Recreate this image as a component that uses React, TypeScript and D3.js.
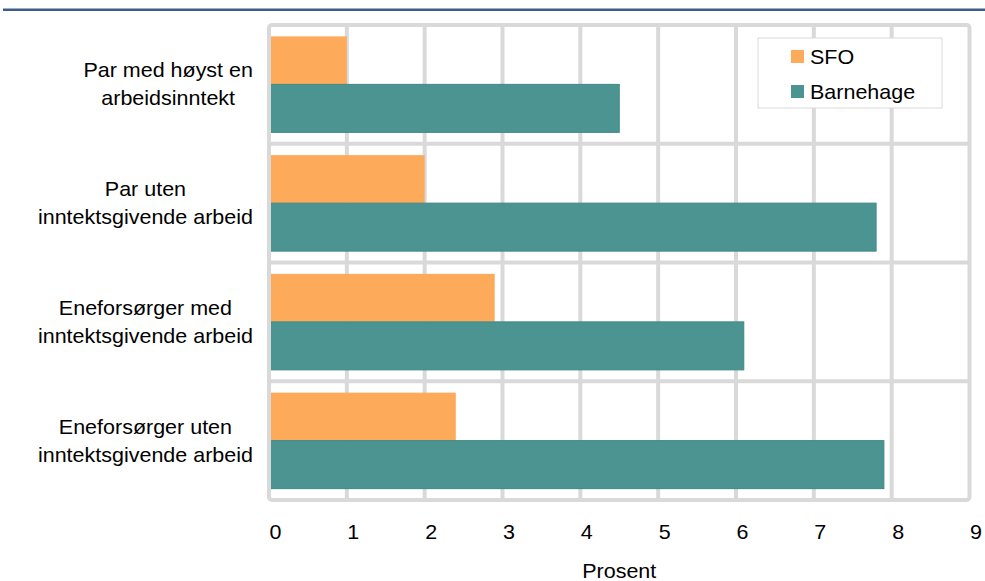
import React from "react";
import * as d3 from "d3";

const categories: string[][] = [
  ["Par med høyst en", "arbeidsinntekt"],
  ["Par uten", "inntektsgivende arbeid"],
  ["Eneforsørger med", "inntektsgivende arbeid"],
  ["Eneforsørger uten", "inntektsgivende arbeid"],
];
const seriesNames = ["SFO", "Barnehage"];
const sfoValues = [1.0, 2.0, 2.9, 2.4];
const barnehageValues = [4.5, 7.8, 6.1, 7.9];
const ticks = [0, 1, 2, 3, 4, 5, 6, 7, 8, 9];
const axisTitle = "Prosent";

const colors: Record<string, string> = { SFO: "#fdab5a", Barnehage: "#4c9491" };
const FONT = "'Liberation Sans', Arial, sans-serif";
const SX = 1.075;

function measure(text: string, size: number): number {
  if (typeof document === "undefined") return text.length * size * 0.5;
  const c = document.createElement("canvas");
  const ctx = c.getContext("2d")!;
  ctx.font = `${size}px 'Liberation Sans', Arial, sans-serif`;
  return ctx.measureText(text).width * SX;
}

function T(props: { x: number; y: number; anchor?: "start" | "middle" | "end"; size: number; children: React.ReactNode }) {
  return (
    <g transform={`translate(${props.x},${props.y}) scale(${SX},1)`}>
      <text x={0} y={0} textAnchor={props.anchor || "start"} fontSize={props.size} fill="#000">
        {props.children}
      </text>
    </g>
  );
}

export default function App() {
  const W = 985, H = 581;
  const left = 269, right = 969.5, top = 25, bottom = 500;
  const x = d3.scaleLinear().domain([0, 9]).range([left, right]);
  const keys = categories.map((c) => c.join(" "));
  const y = d3.scaleBand<string>().domain(keys).range([top, bottom]).padding(0);
  const sub = d3.scaleBand<string>().domain(seriesNames).range([0, y.step()]).paddingInner(0).paddingOuter(0.237);
  const data = [sfoValues, barnehageValues];
  const grid = "#d9d9d9";
  const fs = 20;

  return (
    <svg width={W} height={H} style={{ position: "absolute", left: 0, top: 0, background: "#fff" }} fontFamily={FONT}>
      <line x1={3} x2={985} y1={9.8} y2={9.8} stroke="#3f5b8c" strokeWidth={2.5} />
      {ticks.slice(1, -1).map((t) => (
        <line key={"v" + t} x1={x(t)} x2={x(t)} y1={top} y2={bottom} stroke={grid} strokeWidth={4} />
      ))}
      {keys.slice(1).map((k) => (
        <line key={"h" + k} x1={left} x2={right} y1={y(k)!} y2={y(k)!} stroke={grid} strokeWidth={4} />
      ))}
      {seriesNames.map((s, si) =>
        keys.map((k, ci) => (
          <rect
            key={s + k}
            x={x(0)}
            y={y(k)! + sub(s)!}
            width={x(data[si][ci]) - x(0)}
            height={sub.bandwidth()}
            fill={colors[s]}
            stroke={s === "Barnehage" ? "#3f8884" : "none"}
            strokeWidth={s === "Barnehage" ? 1 : 0}
          />
        ))
      )}
      <rect x={left} y={top} width={right - left} height={bottom - top} rx={3} fill="none" stroke={grid} strokeWidth={4} />
      {categories.map((lines, ci) => {
        const k = keys[ci];
        const cy = y(k)! + y.bandwidth() / 2;
        const maxW = Math.max(...lines.map((l) => measure(l, fs)));
        const cx = 253 - maxW / 2;
        const lh = 28;
        return lines.map((l, li) => (
          <T key={k + li} x={cx} y={cy + (li - (lines.length - 1) / 2) * lh + 7} anchor="middle" size={fs}>
            {l}
          </T>
        ));
      })}
      {ticks.map((t) => (
        <T key={"t" + t} x={x(t) + 6.5} y={539} anchor="middle" size={fs}>
          {t}
        </T>
      ))}
      <T x={(left + right) / 2} y={578} anchor="middle" size={fs}>
        {axisTitle}
      </T>
      <rect x={758} y={38} width={184} height={70} fill="#fff" stroke={grid} strokeWidth={1} />
      {seriesNames.map((s, i) => (
        <g key={"lg" + s}>
          <rect x={791} y={50 + i * 35} width={13} height={13} fill={colors[s]} />
          <T x={810} y={64 + i * 35} size={fs}>
            {s}
          </T>
        </g>
      ))}
    </svg>
  );
}
